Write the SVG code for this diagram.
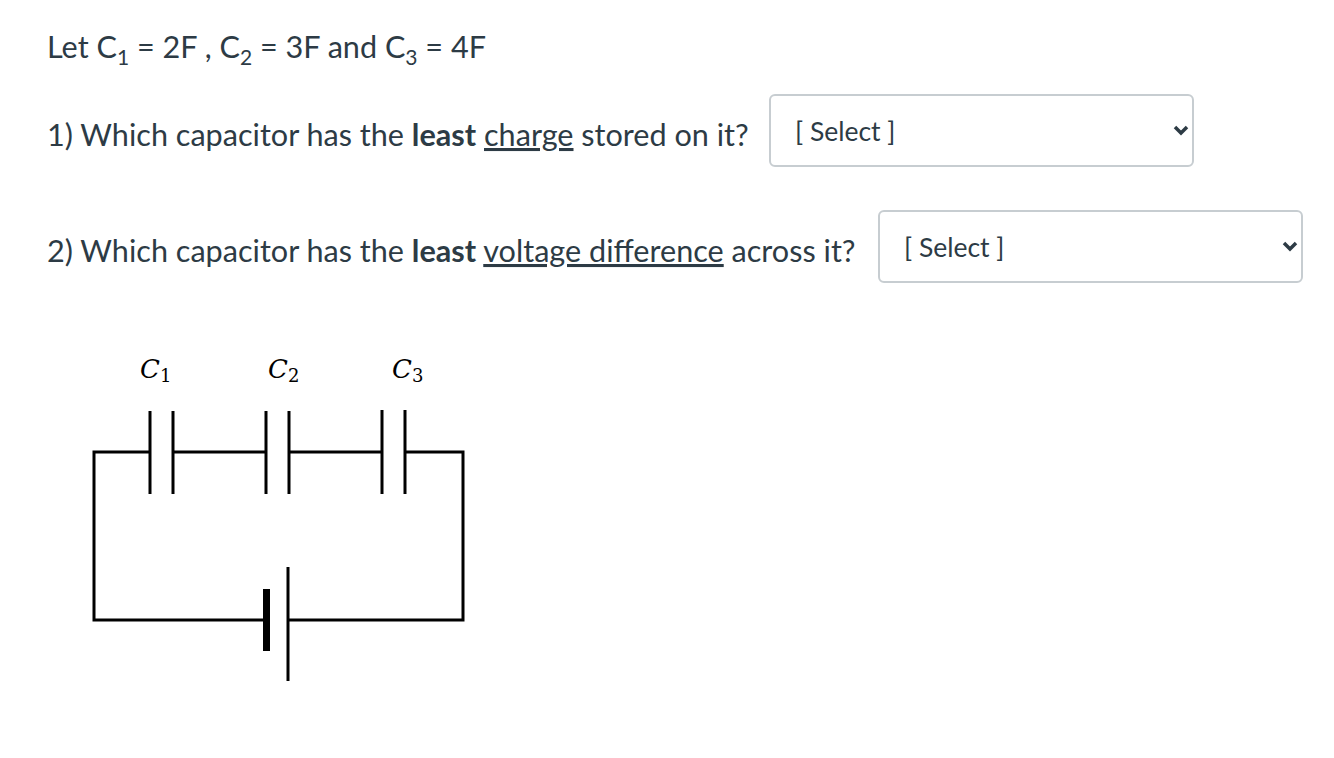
<svg xmlns="http://www.w3.org/2000/svg" width="1334" height="758" viewBox="0 0 1334 758">
<style>
.t{font-family:Lato,"Open Sans",sans-serif;font-size:30.6px;fill:#2d3b45}
.s{font-family:Lato,"Open Sans",sans-serif;font-size:26.5px;fill:#2d3b45}
.box{fill:#fff;stroke:#c7cdd1;stroke-width:2}
.w{stroke:#000;stroke-width:3;fill:none}
.m{font-family:"DejaVu Serif",serif;font-style:italic;font-size:26px;fill:#000}
.chev{fill:none;stroke:#2d3b45;stroke-width:3.5}
</style>
<rect width="1334" height="758" fill="#fff"/>
<text class="t" x="47" y="58">Let C<tspan font-size="21" dy="7">1</tspan><tspan dy="-7"> = 2F , C</tspan><tspan font-size="21" dy="7">2</tspan><tspan dy="-7"> = 3F and C</tspan><tspan font-size="21" dy="7">3</tspan><tspan dy="-7"> = 4F</tspan></text>
<text class="t" x="47" y="146">1) Which capacitor has the <tspan font-weight="bold">least</tspan> <tspan text-decoration="underline">charge</tspan> stored on it?</text>
<text class="t" x="47" y="262">2) Which capacitor has the <tspan font-weight="bold">least</tspan> <tspan text-decoration="underline">voltage difference</tspan> across it?</text>
<g id="select1"><rect class="box" x="770" y="95" width="423" height="71" rx="5"/><text class="s" x="795" y="141">[ Select ]</text><path class="chev" d="M1175 127 l6 6 l6 -6"/></g>
<g id="select2"><rect class="box" x="879" y="211" width="423" height="71" rx="5"/><text class="s" x="904" y="257">[ Select ]</text><path class="chev" d="M1284 243 l6 6 l6 -6"/></g>
<g id="circuit">
<path class="w" d="M150 452 H94 V620 H266 M288 620 H463 V452 H405 M173 452 H266 M289 452 H382"/>
<path class="w" d="M150 411 V494 M173 411 V494 M266 411 V494 M289 411 V494 M382 410 V494 M405 410 V494 M288 567 V681"/>
<rect x="263" y="589" width="7" height="62" fill="#000"/>
<text class="m" x="140" y="378">C<tspan font-size="18" font-style="normal" dy="4">1</tspan></text>
<text class="m" x="268" y="378">C<tspan font-size="18" font-style="normal" dy="4">2</tspan></text>
<text class="m" x="392" y="378">C<tspan font-size="18" font-style="normal" dy="4">3</tspan></text>
</g>
</svg>
